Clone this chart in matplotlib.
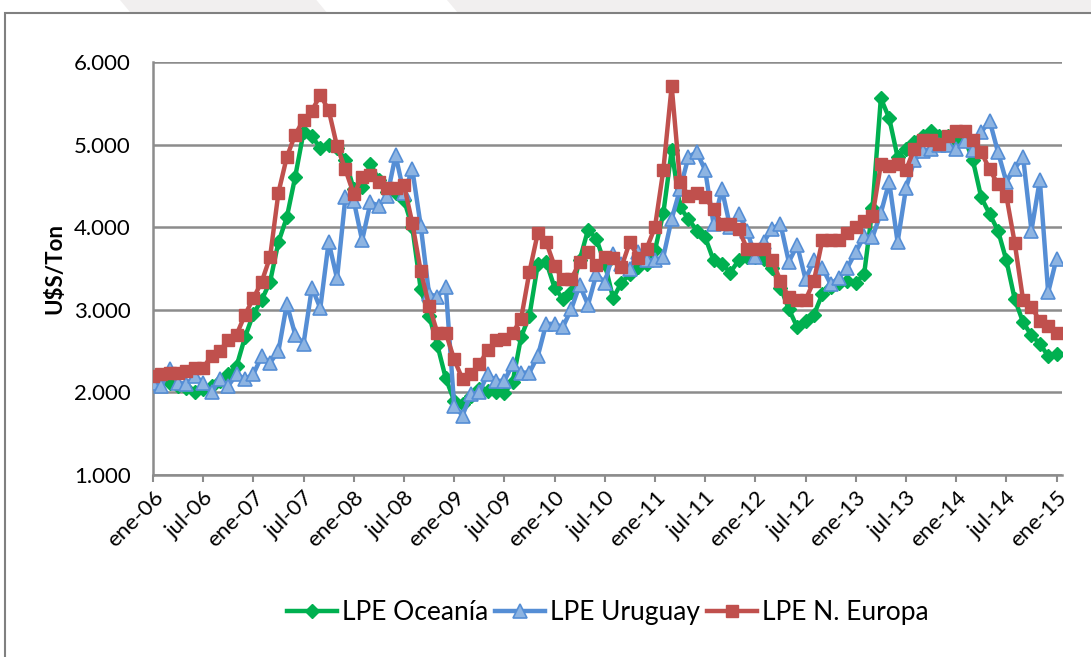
import numpy as np
import matplotlib
matplotlib.use("Agg")
import matplotlib.pyplot as plt
from matplotlib.patches import Polygon, Rectangle
from matplotlib.ticker import FuncFormatter

# monthly prices, ene-06 .. ene-15 (U$S/Ton)
oceania = [2160, 2150, 2110, 2080, 2050, 2010, 2040, 2080, 2140, 2220, 2320, 2670,
           2950, 3120, 3340, 3820, 4120, 4610, 5150, 5100, 4960, 4990, 4960, 4810,
           4460, 4490, 4770, 4570, 4430, 4410, 4330, 4000, 3250, 2930, 2570, 2170,
           1900, 1860, 1960, 2040, 2020, 2010, 1990, 2130, 2670, 2930, 3550, 3580,
           3270, 3130, 3210, 3600, 3970, 3860, 3560, 3140, 3330, 3430, 3520, 3560,
           3720, 4170, 4930, 4240, 4100, 3960, 3880, 3600, 3560, 3450, 3600, 3640,
           3640, 3620, 3510, 3270, 3010, 2790, 2860, 2940, 3190, 3280, 3330, 3350,
           3330, 3430, 4230, 5560, 5320, 4850, 4950, 5030, 5110, 5170, 5110, 5110,
           5060, 5080, 4810, 4360, 4160, 3960, 3600, 3130, 2850, 2690, 2590, 2440,
           2470]

uruguay = [2120, 2080, 2280, 2120, 2100, 2200, 2120, 2000, 2160, 2080, 2220, 2160,
           2220, 2440, 2360, 2500, 3070, 2700, 2590, 3270, 3020, 3820, 3380, 4360,
           4320, 3840, 4300, 4260, 4380, 4870, 4410, 4700, 4020, 3190, 3160, 3280,
           1840, 1720, 1980, 2000, 2220, 2140, 2140, 2340, 2240, 2240, 2440, 2830,
           2830, 2790, 3010, 3300, 3060, 3430, 3330, 3680, 3550, 3500, 3700, 3600,
           3600, 3640, 4100, 4460, 4850, 4910, 4690, 4040, 4460, 4000, 4160, 3960,
           3640, 3820, 3980, 4040, 3580, 3780, 3370, 3600, 3510, 3310, 3390, 3510,
           3700, 3890, 3880, 4170, 4550, 3820, 4470, 4810, 4920, 4950, 4990, 4990,
           4950, 5040, 4940, 5150, 5290, 4910, 4550, 4710, 4850, 3960, 4570, 3210,
           3620]

n_europa = [2200, 2220, 2230, 2230, 2260, 2290, 2300, 2440, 2500, 2640, 2700, 2940,
            3140, 3340, 3640, 4420, 4850, 5120, 5300, 5410, 5600, 5420, 4980, 4700,
            4400, 4610, 4630, 4550, 4480, 4480, 4510, 4050, 3470, 3050, 2720, 2720,
            2400, 2160, 2220, 2340, 2510, 2630, 2650, 2720, 2890, 3460, 3930, 3820,
            3530, 3370, 3370, 3580, 3700, 3540, 3640, 3630, 3520, 3820, 3630, 3740,
            4000, 4690, 5710, 4550, 4380, 4410, 4360, 4220, 4040, 4040, 3980, 3740,
            3740, 3740, 3600, 3350, 3150, 3120, 3120, 3350, 3840, 3840, 3840, 3930,
            4000, 4070, 4140, 4760, 4740, 4770, 4690, 4950, 5060, 5050, 5010, 5110,
            5170, 5160, 5050, 4910, 4700, 4520, 4380, 3810, 3120, 3030, 2870, 2810,
            2720]

tick_labels = ["ene-06", "jul-06", "ene-07", "jul-07", "ene-08", "jul-08", "ene-09",
               "jul-09", "ene-10", "jul-10", "ene-11", "jul-11", "ene-12", "jul-12",
               "ene-13", "jul-13", "ene-14", "jul-14", "ene-15"]

plt.rcParams['font.family'] = ['Lato', 'DejaVu Sans']

fig = plt.figure(figsize=(10.91, 6.57), dpi=100)

# faint banner shapes above the chart frame, and the frame itself (kept behind the axes)
fig.patches.append(Polygon([[0.11, 1.0], [0.29, 1.0], [0.30, 0.98], [0.12, 0.98]],
                           closed=True, transform=fig.transFigure,
                           facecolor='#f1efef', edgecolor='none', zorder=-10))
fig.patches.append(Polygon([[0.41, 1.0], [1.0, 1.0], [1.0, 0.98], [0.42, 0.98]],
                           closed=True, transform=fig.transFigure,
                           facecolor='#f1efef', edgecolor='none', zorder=-10))
fig.patches.append(Rectangle((0.005, -0.01), 1.0, 0.99, transform=fig.transFigure,
                             facecolor='white', edgecolor='#808080', linewidth=1.5,
                             zorder=-5))

ax = fig.add_axes([0.1402, 0.277, 0.8332, 0.6286])
ax.patch.set_alpha(0)

x = np.arange(len(oceania))
ax.plot(x, oceania, color='#00B050', linewidth=3.2, marker='D', markersize=7,
        markerfacecolor='#00B050', markeredgecolor='#00B050', label='LPE Oceanía', zorder=3)
ax.plot(x, uruguay, color='#558ED5', linewidth=3.2, marker='^', markersize=10,
        markerfacecolor='#8DB4E2', markeredgecolor='#558ED5', markeredgewidth=1.2,
        label='LPE Uruguay', zorder=4)
ax.plot(x, n_europa, color='#C0504D', linewidth=3.2, marker='s', markersize=8.5,
        markerfacecolor='#C0504D', markeredgecolor='#C0504D', label='LPE N. Europa', zorder=5)

ax.set_xlim(0, 108.65)
ax.set_ylim(1000, 6000)
ax.set_yticks([1000, 2000, 3000, 4000, 5000, 6000])
ax.yaxis.set_major_formatter(FuncFormatter(lambda v, p: f"{int(v):,}".replace(",", ".")))
ax.grid(axis='y', color='#8c8c8c', linewidth=1.8)
ax.set_axisbelow(True)

ax.set_xticks(np.arange(0, len(oceania), 6))
ax.set_xticklabels(tick_labels, rotation=45, ha='right', va='top',
                   rotation_mode='anchor', fontsize=16)
ax.tick_params(axis='y', labelsize=16, length=0, pad=16)
ax.tick_params(axis='x', length=5, color='#8c8c8c', width=1.5, pad=4)

for side in ['top', 'right']:
    ax.spines[side].set_visible(False)
ax.spines['left'].set_color('#8c8c8c')
ax.spines['left'].set_linewidth(1.8)
ax.spines['bottom'].set_color('#8c8c8c')
ax.spines['bottom'].set_linewidth(1.8)

ax.set_ylabel('U$S/Ton', fontsize=16, fontweight='bold', labelpad=6)

fig.legend(loc='center', bbox_to_anchor=(0.557, 0.067), ncol=3, frameon=False,
           fontsize=19, handlelength=1.9, columnspacing=0.25, handletextpad=0.2)

fig.savefig('out.png', dpi=100)
